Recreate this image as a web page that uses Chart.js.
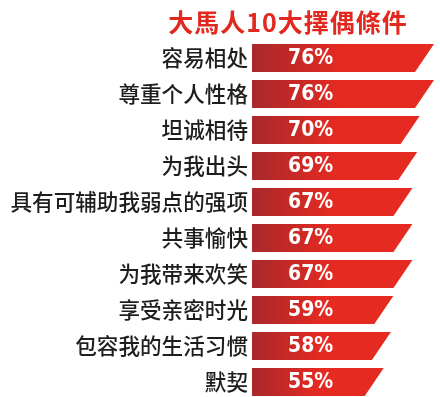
<!DOCTYPE html>
<html>
<head>
<meta charset="utf-8">
<script src="https://cdn.jsdelivr.net/npm/chart.js@4/dist/chart.umd.min.js"></script>
<style>
  html, body { margin: 0; padding: 0; background: #ffffff; overflow: hidden; }
  canvas { display: block; }
</style>
</head>
<body>
<canvas id="c" width="440" height="423"></canvas>
<script>
const chartTitle = '大馬人10大擇偶條件';
const categories = ['容易相处', '尊重个人性格', '坦诚相待', '为我出头', '具有可辅助我弱点的强项', '共事愉快', '为我带来欢笑', '享受亲密时光', '包容我的生活习惯', '默契'];
const percentValues = [76, 76, 70, 69, 67, 67, 67, 59, 58, 55];

const DARK = '#a8282b';
const BRIGHT = '#e52a21';
const SLANT = 19;

const slantBars = {
  id: 'slantBars',
  afterDatasetsDraw(chart) {
    const ctx = chart.ctx;
    const meta = chart.getDatasetMeta(0);
    meta.data.forEach((bar, i) => {
      const p = bar.getProps(['x', 'y', 'base', 'height'], true);
      const top = p.y - p.height / 2;
      const bottom = p.y + p.height / 2;
      const w = p.x - p.base;
      const g = ctx.createLinearGradient(p.base, 0, p.base + w * 0.5, 0);
      g.addColorStop(0, DARK);
      g.addColorStop(1, BRIGHT);
      ctx.save();
      ctx.beginPath();
      ctx.moveTo(p.base, top);
      ctx.lineTo(p.x, top);
      ctx.lineTo(p.x - SLANT, bottom);
      ctx.lineTo(p.base, bottom);
      ctx.closePath();
      ctx.fillStyle = g;
      ctx.fill();
      ctx.font = 'bold 21px "DejaVu Sans Condensed", "DejaVu Sans"';
      ctx.fillStyle = '#ffffff';
      ctx.textAlign = 'left';
      ctx.textBaseline = 'middle';
      ctx.fillText(percentValues[i] + '%', p.base + 36, p.y + 1);
      ctx.restore();
    });
  }
};

const titlePlugin = {
  id: 'customTitle',
  afterDraw(chart) {
    const ctx = chart.ctx;
    ctx.save();
    ctx.font = 'bold 25px "Noto Sans CJK TC", "Noto Sans CJK SC"';
    if ('letterSpacing' in ctx) ctx.letterSpacing = '1px';
    ctx.fillStyle = '#e2281f';
    ctx.textAlign = 'center';
    ctx.textBaseline = 'middle';
    ctx.fillText(chartTitle, 288, 22);
    ctx.restore();
  }
};

new Chart(document.getElementById('c'), {
  type: 'bar',
  data: {
    labels: categories,
    datasets: [{
      data: percentValues,
      backgroundColor: 'rgba(0,0,0,0)',
      borderWidth: 0,
      categoryPercentage: 1,
      barPercentage: 28 / 36
    }]
  },
  options: {
    indexAxis: 'y',
    responsive: false,
    animation: false,
    layout: { padding: { top: 40, bottom: 0, left: 0, right: 0 } },
    plugins: {
      legend: { display: false },
      tooltip: { enabled: false },
      title: { display: false }
    },
    scales: {
      x: {
        display: false,
        min: 2.5,
        max: 78.5
      },
      y: {
        grid: { display: false, drawTicks: false },
        border: { display: false },
        afterFit(scale) { scale.width = 258; },
        ticks: {
          padding: 10,
          color: '#1e1e1e',
          font: { family: '"Noto Sans CJK SC"', size: 21.6, weight: '500' }
        }
      }
    }
  },
  plugins: [slantBars, titlePlugin]
});
</script>
</body>
</html>
